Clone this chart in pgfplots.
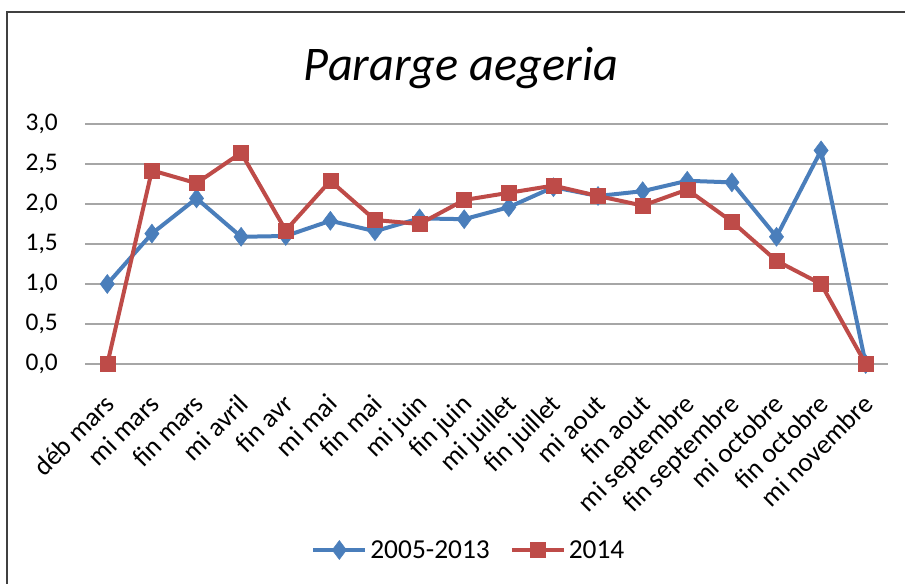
\documentclass[border=0pt]{standalone}
\usepackage{fontspec}
\setmainfont{Carlito}
\usepackage{pgfplots}
\pgfplotsset{compat=1.18}
\definecolor{xblue}{HTML}{4A7EBB}
\definecolor{xred}{HTML}{BE4B48}
\definecolor{xgrid}{HTML}{A6A6A6}
\begin{document}
\begin{tikzpicture}[x=1bp,y=1bp]
\useasboundingbox (0,0) rectangle (905,584);
\fill[white] (0,0) rectangle (905,584);
\draw[line width=2bp,black!75] (7,-10) rectangle (920,572);
\node[font=\fontsize{48.5}{54}\selectfont\itshape] at (461,516) {Pararge aegeria};
\begin{axis}[
  at={(85bp,220bp)}, anchor=south west,
  scale only axis, width=803bp, height=240bp,
  xmin=-0.5, xmax=17.5, ymin=0, ymax=3,
  ytick={0,0.5,1,1.5,2,2.5,3},
  xtick={0,...,17},
  xticklabels={déb mars,mi mars,fin mars,mi avril,fin avr,mi mai,fin mai,mi juin,fin juin,mi juillet,fin juillet,mi aout,fin aout,mi septembre,fin septembre,mi octobre,fin octobre,mi novembre},
  x tick label style={rotate=45, anchor=north east, font=\fontsize{27}{30}\selectfont, inner sep=0bp, xshift=-6bp},
  y tick label style={font=\fontsize{25.5}{30}\selectfont, inner sep=0bp},
  yticklabel style={/pgf/number format/.cd, fixed, fixed zerofill, precision=1, use comma, assume math mode=true},
  axis line style={draw=none},
  major tick length=0pt,
  ymajorgrids, grid style={xgrid, line width=1.6bp},
  xticklabel shift=24bp, yticklabel shift=27bp,
  clip=false,
  legend columns=2,
  legend style={at={(0.478,-0.775)}, anchor=center, draw=none, fill=none,
    font=\fontsize{27.5}{32}\selectfont, column sep=1bp, inner sep=0bp,
    /tikz/every even column/.append style={column sep=18bp}},
  legend image code/.code={\draw[mark repeat=2,mark phase=2] plot coordinates {(0bp,0bp) (26bp,0bp) (52bp,0bp)};},
]
\addplot[xblue, line width=4bp, mark=diamond*, mark size=9.5bp, mark options={solid, line width=0.5bp}] coordinates {
(0,1.0) (1,1.63) (2,2.07) (3,1.59) (4,1.6) (5,1.79) (6,1.66) (7,1.82) (8,1.81) (9,1.96) (10,2.21) (11,2.1) (12,2.16) (13,2.29) (14,2.27) (15,1.59) (16,2.67) (17,0.0)
};
\addlegendentry{2005-2013}
\addplot[xred, line width=4bp, mark=square*, mark size=7.5bp, mark options={solid, line width=0.5bp}] coordinates {
(0,0.0) (1,2.42) (2,2.26) (3,2.64) (4,1.67) (5,2.29) (6,1.8) (7,1.75) (8,2.05) (9,2.14) (10,2.23) (11,2.1) (12,1.98) (13,2.18) (14,1.78) (15,1.29) (16,1.0) (17,0.0)
};
\addlegendentry{2014}
\end{axis}
\end{tikzpicture}
\end{document}
